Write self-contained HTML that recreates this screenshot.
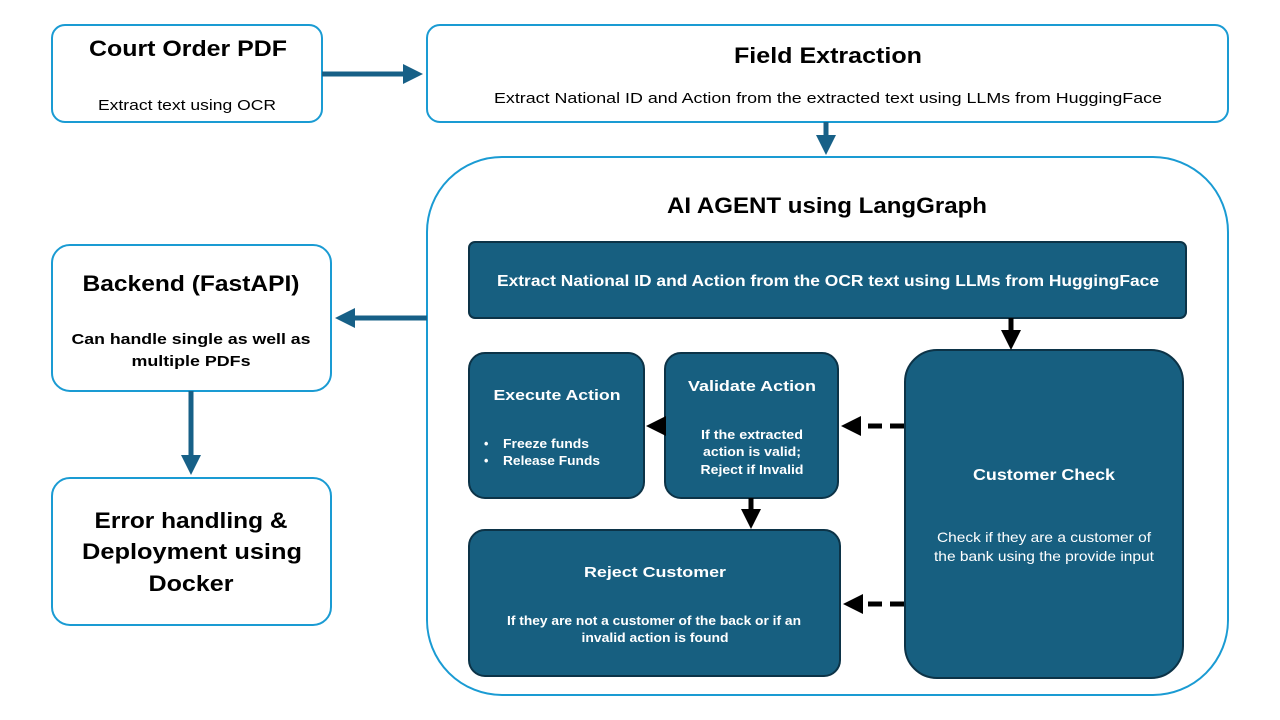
<!DOCTYPE html>
<html><head><meta charset="utf-8"><style>
html,body{margin:0;padding:0;background:#fff;}
svg{display:block;font-family:"Liberation Sans",sans-serif;}
</style></head><body>
<svg width="1280" height="720" viewBox="0 0 1280 720" xmlns="http://www.w3.org/2000/svg">
<defs>
<marker id="ab" markerWidth="4" markerHeight="4" refX="2.2" refY="2" orient="auto" markerUnits="strokeWidth"><path d="M0,0 L4,2 L0,4 z" fill="#000"/></marker>
<marker id="at" markerWidth="4" markerHeight="4" refX="2.2" refY="2" orient="auto" markerUnits="strokeWidth"><path d="M0,0 L4,2 L0,4 z" fill="#176087"/></marker>
</defs>
<g fill="#fff" stroke="#1a9bd3" stroke-width="2">
<rect x="52" y="25" width="270" height="97" rx="13"/>
<rect x="427" y="25" width="801" height="97" rx="13"/>
<rect x="427" y="157" width="801" height="538" rx="75"/>
<rect x="52" y="245" width="279" height="146" rx="18"/>
<rect x="52" y="478" width="279" height="147" rx="18"/>
</g>
<g fill="#175f80" stroke="#0c3347" stroke-width="2">
<rect x="469" y="242" width="717" height="76" rx="6"/>
<rect x="905" y="350" width="278" height="328" rx="32"/>
<rect x="665" y="353" width="173" height="145" rx="16"/>
<rect x="469" y="353" width="175" height="145" rx="16"/>
<rect x="469" y="530" width="371" height="146" rx="16"/>
</g>
<g stroke="#176087" stroke-width="5" fill="none">
<line x1="322" y1="74" x2="414" y2="74" marker-end="url(#at)"/>
<line x1="826" y1="122" x2="826" y2="146" marker-end="url(#at)"/>
<line x1="427" y1="318" x2="344" y2="318" marker-end="url(#at)"/>
<line x1="191" y1="391" x2="191" y2="466" marker-end="url(#at)"/>
</g>
<g stroke="#000" stroke-width="5" fill="none">
<line x1="1011" y1="318" x2="1011" y2="341" marker-end="url(#ab)"/>
<line x1="665" y1="426" x2="655" y2="426" marker-end="url(#ab)"/>
<line x1="751" y1="498" x2="751" y2="520" marker-end="url(#ab)"/>
<line x1="904" y1="426" x2="850" y2="426" stroke-dasharray="14,8" marker-end="url(#ab)"/>
<line x1="904" y1="604" x2="852" y2="604" stroke-dasharray="14,8" marker-end="url(#ab)"/>
</g>
<g text-anchor="middle" fill="#000" lengthAdjust="spacingAndGlyphs">
<text x="188" y="56" font-size="22" font-weight="bold" textLength="198" lengthAdjust="spacingAndGlyphs">Court Order PDF</text>
<text x="187" y="110" font-size="15" textLength="178" lengthAdjust="spacingAndGlyphs">Extract text using OCR</text>
<text x="828" y="63" font-size="22" font-weight="bold" textLength="188" lengthAdjust="spacingAndGlyphs">Field Extraction</text>
<text x="828" y="103" font-size="15" textLength="668" lengthAdjust="spacingAndGlyphs">Extract National ID and Action from the extracted text using LLMs from HuggingFace</text>
<text x="827" y="213" font-size="22" font-weight="bold" textLength="320" lengthAdjust="spacingAndGlyphs">AI AGENT using LangGraph</text>
<text x="191" y="291" font-size="22" font-weight="bold" textLength="217" lengthAdjust="spacingAndGlyphs">Backend (FastAPI)</text>
<text x="191" y="344" font-size="15" font-weight="bold" textLength="239" lengthAdjust="spacingAndGlyphs">Can handle single as well as</text>
<text x="191" y="366" font-size="15" font-weight="bold" textLength="119" lengthAdjust="spacingAndGlyphs">multiple PDFs</text>
<text x="191" y="528" font-size="22" font-weight="bold" textLength="193" lengthAdjust="spacingAndGlyphs">Error handling &amp;</text>
<text x="192" y="559" font-size="22" font-weight="bold" textLength="220" lengthAdjust="spacingAndGlyphs">Deployment using</text>
<text x="191" y="591" font-size="22" font-weight="bold" textLength="85" lengthAdjust="spacingAndGlyphs">Docker</text>
</g>
<g text-anchor="middle" fill="#fff" font-weight="bold">
<text x="828" y="286" font-size="16" textLength="662" lengthAdjust="spacingAndGlyphs">Extract National ID and Action from the OCR text using LLMs from HuggingFace</text>
<text x="1044" y="480" font-size="16" textLength="142" lengthAdjust="spacingAndGlyphs">Customer Check</text>
<text x="1044" y="542" font-size="14" font-weight="normal" textLength="214" lengthAdjust="spacingAndGlyphs">Check if they are a customer of</text>
<text x="1044" y="561" font-size="14" font-weight="normal" textLength="220" lengthAdjust="spacingAndGlyphs">the bank using the provide input</text>
<text x="752" y="391" font-size="15" textLength="128" lengthAdjust="spacingAndGlyphs">Validate Action</text>
<text x="752" y="439" font-size="12.5" textLength="102" lengthAdjust="spacingAndGlyphs">If the extracted</text>
<text x="752" y="456" font-size="12.5" textLength="98" lengthAdjust="spacingAndGlyphs">action is valid;</text>
<text x="752" y="474" font-size="12.5" textLength="103" lengthAdjust="spacingAndGlyphs">Reject if Invalid</text>
<text x="557" y="400" font-size="15" textLength="127" lengthAdjust="spacingAndGlyphs">Execute Action</text>
<text x="655" y="577" font-size="15" textLength="142" lengthAdjust="spacingAndGlyphs">Reject Customer</text>
<text x="654" y="625" font-size="12.5" textLength="294" lengthAdjust="spacingAndGlyphs">If they are not a customer of the back or if an</text>
<text x="655" y="642" font-size="12.5" textLength="147" lengthAdjust="spacingAndGlyphs">invalid action is found</text>
</g>
<g fill="#fff" font-weight="bold" font-size="12.5">
<text x="484" y="448">•</text><text x="503" y="448" textLength="86" lengthAdjust="spacingAndGlyphs">Freeze funds</text>
<text x="484" y="465">•</text><text x="503" y="465" textLength="97" lengthAdjust="spacingAndGlyphs">Release Funds</text>
</g>
</svg>
</body></html>
